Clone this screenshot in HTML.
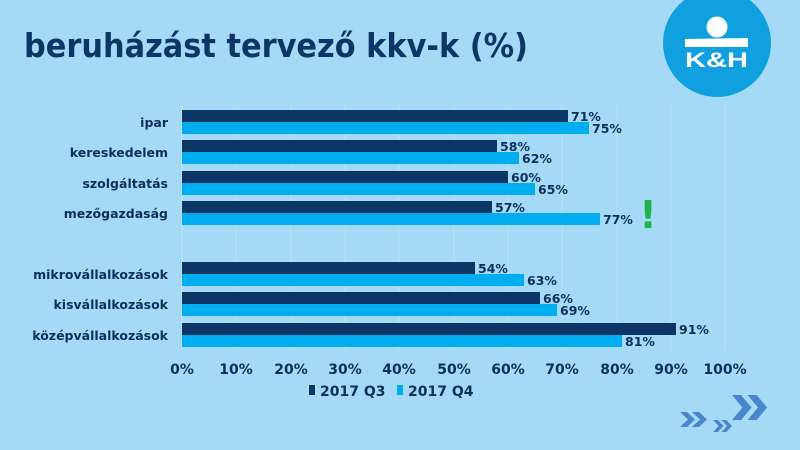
<!DOCTYPE html>
<html><head><meta charset="utf-8"><style>
body{margin:0}
#c{position:relative;width:800px;height:450px;background:#a5daf6;overflow:hidden}
</style></head><body><div id="c">
<svg width="800" height="450" style="position:absolute;left:0;top:0" font-family="DejaVu Sans, sans-serif" font-weight="bold">
<defs>
<g id="chev"><polygon points="0,0 3.5,0 7.5,5 3.5,10 0,10 4,5"/><polygon points="6,0 9.5,0 13.5,5 9.5,10 6,10 10,5"/></g>
</defs>
<text x="24" y="57" font-size="33" fill="#0d3565" textLength="504" lengthAdjust="spacingAndGlyphs">beruházást tervező kkv-k (%)</text>
<circle cx="717" cy="43" r="54" fill="#10a0e0"/>
<circle cx="717" cy="27" r="10.5" fill="#fff"/>
<polygon points="685,39 748,38 748,47 685,47" fill="#fff"/>
<text x="685" y="67" font-family="Liberation Sans, sans-serif" font-size="21" fill="#fff" textLength="63" lengthAdjust="spacingAndGlyphs">K&amp;H</text>
<g stroke="#b8e2f8" stroke-width="1">
<line x1="236" y1="105" x2="236" y2="350"/><line x1="291" y1="105" x2="291" y2="350"/><line x1="345" y1="105" x2="345" y2="350"/><line x1="399" y1="105" x2="399" y2="350"/><line x1="454" y1="105" x2="454" y2="350"/><line x1="508" y1="105" x2="508" y2="350"/><line x1="562" y1="105" x2="562" y2="350"/><line x1="617" y1="105" x2="617" y2="350"/><line x1="671" y1="105" x2="671" y2="350"/><line x1="725" y1="105" x2="725" y2="350"/>
</g>
<line x1="182" y1="105" x2="182" y2="350" stroke="#c6e8f8"/>
<g font-size="12.5" fill="#0d2f5c">
<rect x="182" y="110" width="386" height="12" fill="#0d3565"/><rect x="182" y="122" width="407" height="12" fill="#00aeef"/>
<text x="168" y="127" text-anchor="end">ipar</text><text x="571" y="121">71%</text><text x="592" y="133">75%</text>
<rect x="182" y="140" width="315" height="12" fill="#0d3565"/><rect x="182" y="152" width="337" height="12" fill="#00aeef"/>
<text x="168" y="157" text-anchor="end">kereskedelem</text><text x="500" y="151">58%</text><text x="522" y="163">62%</text>
<rect x="182" y="171" width="326" height="12" fill="#0d3565"/><rect x="182" y="183" width="353" height="12" fill="#00aeef"/>
<text x="168" y="188" text-anchor="end">szolgáltatás</text><text x="511" y="182">60%</text><text x="538" y="194">65%</text>
<rect x="182" y="201" width="310" height="12" fill="#0d3565"/><rect x="182" y="213" width="418" height="12" fill="#00aeef"/>
<text x="168" y="218" text-anchor="end">mezőgazdaság</text><text x="495" y="212">57%</text><text x="603" y="224">77%</text>
<rect x="182" y="262" width="293" height="12" fill="#0d3565"/><rect x="182" y="274" width="342" height="12" fill="#00aeef"/>
<text x="168" y="279" text-anchor="end">mikrovállalkozások</text><text x="478" y="273">54%</text><text x="527" y="285">63%</text>
<rect x="182" y="292" width="358" height="12" fill="#0d3565"/><rect x="182" y="304" width="375" height="12" fill="#00aeef"/>
<text x="168" y="309" text-anchor="end">kisvállalkozások</text><text x="543" y="303">66%</text><text x="560" y="315">69%</text>
<rect x="182" y="323" width="494" height="12" fill="#0d3565"/><rect x="182" y="335" width="440" height="12" fill="#00aeef"/>
<text x="168" y="340" text-anchor="end">középvállalkozások</text><text x="679" y="334">91%</text><text x="625" y="346">81%</text>
</g>
<text x="648" y="228" font-size="38" fill="#1fb24a" text-anchor="middle">!</text>
<g font-size="14" fill="#0d2f5c" text-anchor="middle">
<text x="182" y="374">0%</text><text x="236" y="374">10%</text><text x="291" y="374">20%</text><text x="345" y="374">30%</text><text x="399" y="374">40%</text><text x="454" y="374">50%</text><text x="508" y="374">60%</text><text x="562" y="374">70%</text><text x="617" y="374">80%</text><text x="671" y="374">90%</text><text x="725" y="374">100%</text>
</g>
<rect x="309" y="385" width="6" height="10" fill="#0d3565"/><text x="320" y="396" font-size="14" fill="#0d2f5c">2017 Q3</text>
<rect x="397" y="385" width="6" height="10" fill="#00aeef"/><text x="408" y="396" font-size="14" fill="#0d2f5c">2017 Q4</text>
<g fill="#4a86cc">
<use href="#chev" transform="translate(732,395) scale(2.6,2.5)"/>
<use href="#chev" transform="translate(680,412) scale(2.0,1.5)"/>
<use href="#chev" transform="translate(713,420) scale(1.4,1.2)"/>
</g>
</svg>
</div></body></html>
